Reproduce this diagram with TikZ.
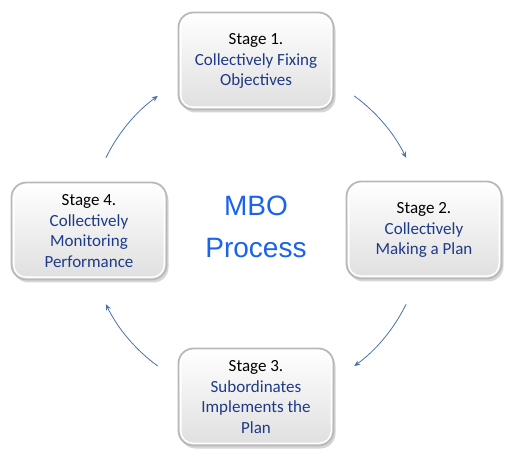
\documentclass[tikz,border=0pt]{standalone}
\usepackage{fontspec}
\setmainfont{Carlito}
\newfontfamily\arialf{Liberation Sans}
\usetikzlibrary{shadows,arrows.meta,calc}
\definecolor{navy}{HTML}{1F3A86}
\definecolor{mboblue}{HTML}{1A62F0}
\definecolor{arrowblue}{HTML}{4A72AE}
\tikzset{
  x=1pt,y=1pt,
  stagebox/.style={rounded corners=15pt, minimum width=155pt, minimum height=97pt,
    draw=gray!55, line width=1.8pt, top color=white, bottom color=gray!25,
    drop shadow={shadow xshift=2pt, shadow yshift=-3pt, opacity=0.45, fill=gray!70},
    align=center, font=\fontsize{17}{20.5}\selectfont, text=navy, inner sep=1pt},
  flow/.style={draw=arrowblue, line width=0.8pt, -{Stealth[length=6pt,width=5pt]}},
}
\newcommand{\stg}[1]{\textcolor{black}{#1}}
\begin{document}
\begin{tikzpicture}
\useasboundingbox (0,0) rectangle (512,-465);
\fill[white] (0,0) rectangle (512,-465);
\coordinate (c) at (256,-231);
\node[stagebox] (s1) at (256,-61) {\stg{Stage 1.}\\Collectively Fixing\\Objectives};
\node[stagebox] (s2) at (424,-230) {\stg{Stage 2.}\\Collectively\\Making a Plan};
\node[stagebox] (s3) at (256,-397) {\stg{Stage 3.}\\Subordinates\\Implements the\\Plan};
\node[stagebox] (s4) at (89,-231) {\stg{Stage 4.}\\Collectively\\Monitoring\\Performance};
\foreach \n in {s1,s2,s3,s4}{
  \draw[white, line width=1.4pt, rounded corners=12pt]
    ($(\n.north west)+(3.2,-3.2)$) rectangle ($(\n.south east)+(-3.2,3.2)$);
}
\node[font=\arialf\fontsize{28}{42}\selectfont, text=mboblue, align=center] (mbo) at (256,-227) {MBO\\Process};
\coordinate (a1s) at ($(c)+(154:167)$);
\coordinate (a2s) at ($(c)+(54:167)$);
\coordinate (a3s) at ($(c)+(-26:167)$);
\coordinate (a4s) at ($(c)+(-126:167)$);
\draw[flow] (a1s) arc[start angle=154, end angle=126, radius=167];
\draw[flow] (a2s) arc[start angle=54, end angle=26, radius=167];
\draw[flow] (a3s) arc[start angle=-26, end angle=-54, radius=167];
\draw[flow] (a4s) arc[start angle=-126, end angle=-154, radius=167];
\end{tikzpicture}
\end{document}
